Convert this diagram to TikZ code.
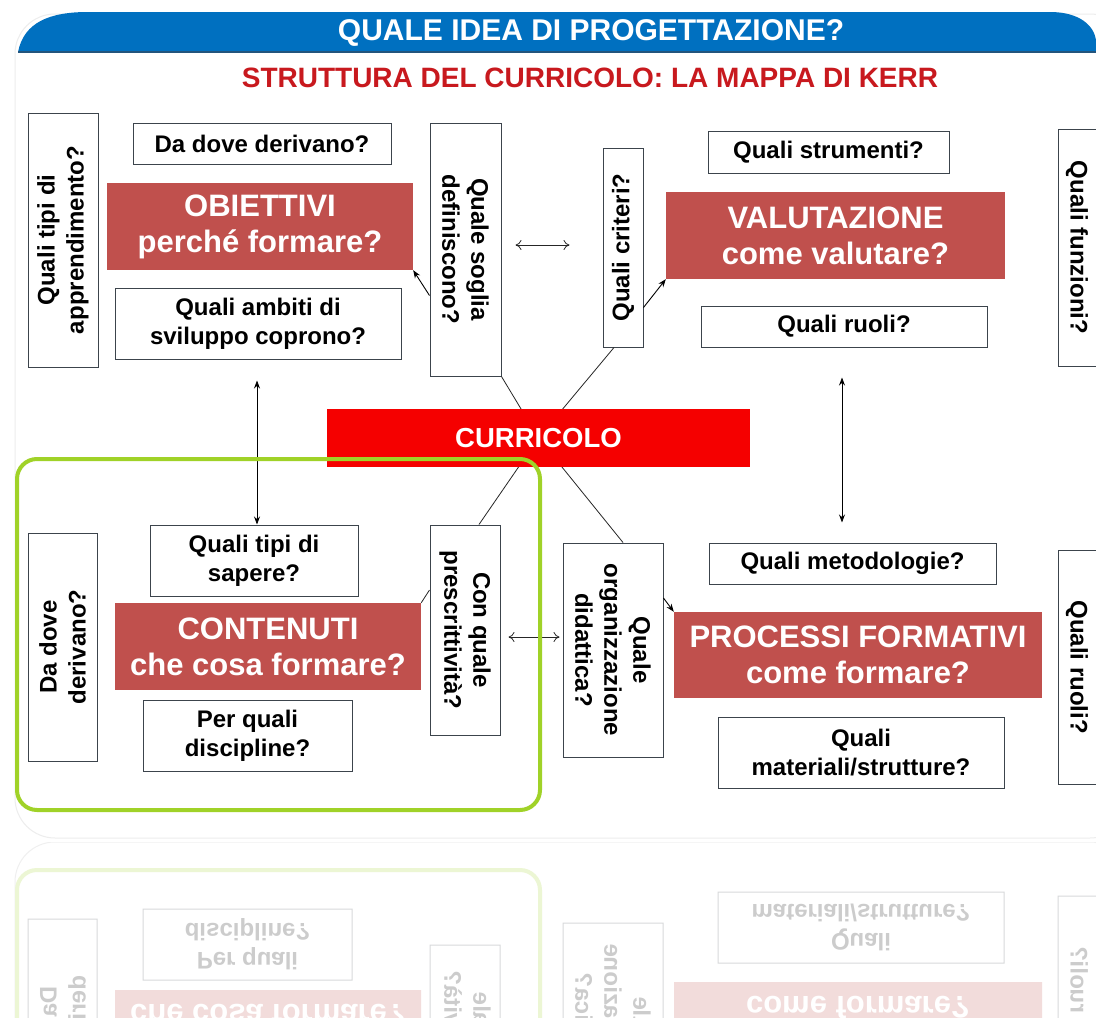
\documentclass[tikz,border=0pt]{standalone}
\usepackage{fontspec}
\setmainfont{Liberation Sans}
\usetikzlibrary{arrows.meta,calc}
\definecolor{obred}{RGB}{192,80,77}
\definecolor{curred}{RGB}{245,0,0}
\definecolor{hblue}{RGB}{0,112,192}
\definecolor{hblued}{RGB}{35,85,125}
\definecolor{gline}{RGB}{160,210,40}
\definecolor{subred}{RGB}{200,25,30}
\definecolor{bord}{RGB}{60,68,76}

\newcommand{\kerrcontent}{%
% white boxes (horizontal)
\node[wbox, minimum width=258pt, minimum height=41pt] (da1) at (262,143.5) {Da dove derivano?};
\node[wbox, minimum width=286pt, minimum height=71pt] (amb) at (258,323.5) {Quali ambiti di\\sviluppo coprono?};
\node[wbox, minimum width=241pt, minimum height=42pt] (str) at (828.5,152) {Quali strumenti?};
\node[wbox, minimum width=286pt, minimum height=41pt] (ruo) at (844,326.5) {Quali ruoli?};
\node[wbox, minimum width=208pt, minimum height=71pt] (sap) at (254,560.5) {Quali tipi di\\sapere?};
\node[wbox, minimum width=209pt, minimum height=71pt] (dis) at (247.5,735.5) {Per quali\\discipline?};
\node[wbox, minimum width=287pt, minimum height=41pt] (met) at (852.5,563.5) {Quali metodologie?};
\node[wbox, minimum width=286pt, minimum height=71pt] (mat) at (861,752.5) {Quali\\materiali/strutture?};
% vertical boxes
\node[wbox, minimum width=70pt, minimum height=254pt] (ql) at (63,240) {};
\node[vtxt, rotate=90] (qlt) at (ql) {Quali tipi di\\apprendimento?};
\node[wbox, minimum width=71pt, minimum height=253pt] (sog) at (465.5,249.5) {};
\node[vtxt, rotate=-90] (sogt) at (sog) {Quale soglia\\definiscono?};
\node[wbox, minimum width=40pt, minimum height=199pt] (cri) at (623,247.5) {};
\node[vtxt, rotate=90] (crit) at (cri) {Quali criteri?};
\node[wbox, minimum width=62pt, minimum height=237pt] (fun) at (1089,247.5) {};
\node[vtxt, rotate=-90] (funt) at (1077,247.5) {Quali funzioni?};
\node[wbox, minimum width=69pt, minimum height=228pt] (dd2) at (62.5,647) {};
\node[vtxt, rotate=90] (dd2t) at (dd2) {Da dove\\derivano?};
\node[wbox, minimum width=70pt, minimum height=210pt] (pre) at (465,630) {};
\node[vtxt, rotate=-90] (pret) at (pre) {Con quale\\prescrittività?};
\node[wbox, minimum width=100pt, minimum height=214pt] (org) at (613,650) {};
\node[vtxt, rotate=-90] (orgt) at (org) {Quale\\organizzazione\\didattica?};
\node[wbox, minimum width=62pt, minimum height=234pt] (ru2) at (1089,667) {};
\node[vtxt, rotate=-90] (ru2t) at (1077,667) {Quali ruoli?};
% red boxes
\node[rbox, minimum width=306pt, minimum height=87pt] (obi) at (260,226.5) {OBIETTIVI\\perché formare?};
\node[rbox, minimum width=339pt, minimum height=87pt] (val) at (835.5,235.5) {VALUTAZIONE\\come valutare?};
\node[rbox, minimum width=306pt, minimum height=87pt] (con) at (268,646.5) {CONTENUTI\\che cosa formare?};
\node[rbox, minimum width=368pt, minimum height=86pt] (pro) at (858,655) {PROCESSI FORMATIVI\\come formare?};
% connectors
\coordinate (cc) at (538.5,438);
\draw[thin0] (sog.south east) -- (cc);
\draw[thin0] ([xshift=-9pt]cri.south) -- (cc);
\draw[thin0] ([xshift=14pt]pre.north) -- (cc);
\draw[thin0] ([xshift=10pt]org.north) -- (cc);
\draw[darr] ($(sog.east)+(14,-4.5)$) -- ($(cri.west |- sog.east)+(-33,-4.5)$);
\draw[darr] ($(pre.east)+(8,7)$) -- ($(org.west |- pre.east)+(-3,7)$);
\draw[farr2] ($(amb.south)+(-1,21)$) -- ($(amb.south |- sap.north)+(-1,0)$);
\draw[farr2] ($(ruo.south)+(-2,30)$) -- ($(ruo.south |- met.north)+(-2,-20)$);
\draw[farr] ($(sog.west)+(0,46)$) -- (obi.south east);
\draw[farr] ($(cri.east)+(0,60)$) -- (val.south west);
\draw[thin0] ($(pre.west)+(0,-40)$) -- (con.north east);
\draw[farr] ($(org.east)+(0,-52)$) -- (pro.north west);
% curricolo
\node[fill=curred, minimum width=423pt, minimum height=58pt, text=white,
      font=\fontsize{27.5}{32}\selectfont\bfseries] (cur) at (cc) {CURRICOLO};
% green frame
\draw[gline, line width=4pt, rounded corners=20pt] (17,459) rectangle (540,810);
}

\begin{document}
\begin{tikzpicture}[x=1pt,y=-1pt,
  wbox/.style={draw=bord, fill=white, line width=1pt, inner sep=0pt, align=center,
    font=\fontsize{24}{29}\selectfont\bfseries},
  vtxt/.style={inner sep=0pt, align=center, font=\fontsize{24}{29}\selectfont\bfseries},
  rbox/.style={fill=obred, text=white, inner sep=0pt, align=center,
    font=\fontsize{31}{36}\selectfont\bfseries},
  thin0/.style={draw=black!85, line width=0.8pt},
  darr/.style={draw=black!85, line width=0.8pt, {To[length=6pt,width=10pt]}-{To[length=6pt,width=10pt]}},
  farr/.style={draw=black, line width=0.9pt, -{Stealth[length=8pt,width=6pt]}},
  farr2/.style={draw=black, line width=0.9pt, {Stealth[length=8pt,width=6pt]}-{Stealth[length=8pt,width=6pt]}}]
\useasboundingbox (0,0) rectangle (1096,1018);
\clip (0,0) rectangle (1096,1018);
\fill[white] (0,0) rectangle (1096,1018);
% panel
\draw[black!7, line width=1pt, rounded corners=40pt] (15,14) rectangle (1130,838);
% header
\fill[hblue] (18,52) .. controls (24,22) and (50,12) .. (88,12) -- (1050,12) .. controls (1080,12) and (1094,26) .. (1096,40) -- (1096,52) -- cycle;
\draw[hblued, line width=1.5pt] (18,52) -- (1096,52);
\node[text=white, font=\fontsize{30}{36}\selectfont\bfseries] (title) at (591,33) {QUALE IDEA DI PROGETTAZIONE?};
\node[text=subred, font=\fontsize{28}{34}\selectfont\bfseries] (sub) at (590,78) {STRUTTURA DEL CURRICOLO: LA MAPPA DI KERR};
\kerrcontent
% reflection
\begin{scope}
\clip (0,842) rectangle (1096,1018);
\begin{scope}[cm={1,0,0,-1,(0pt,-1680pt)}, transparency group, opacity=0.2,
   every node/.append style={transform shape}]
\draw[black!30, line width=1pt, rounded corners=40pt] (15,14) rectangle (1130,838);
\kerrcontent
\end{scope}
\end{scope}
\end{tikzpicture}
\end{document}
